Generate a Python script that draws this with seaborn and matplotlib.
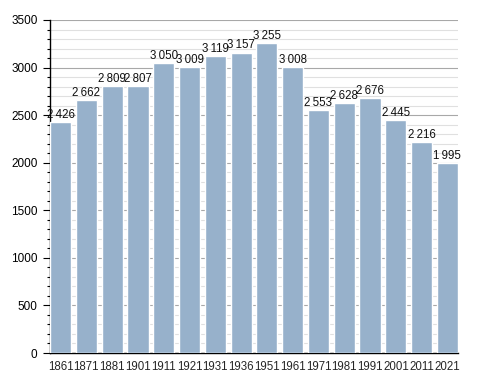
import numpy as np
import pandas as pd
import matplotlib
matplotlib.use("Agg")
import matplotlib.pyplot as plt
import seaborn as sns
from matplotlib.ticker import MultipleLocator

years = ["1861", "1871", "1881", "1901", "1911", "1921", "1931", "1936",
         "1951", "1961", "1971", "1981", "1991", "2001", "2011", "2021"]
population = [2426, 2662, 2809, 2807, 3050, 3009, 3119, 3157,
              3255, 3008, 2553, 2628, 2676, 2445, 2216, 1995]

df = pd.DataFrame({"year": years, "pop": population})

sns.set_style("white")
plt.rcParams["font.family"] = ["Liberation Sans", "DejaVu Sans"]
narrow = ["Liberation Sans Narrow", "Liberation Sans", "DejaVu Sans"]

fig = plt.figure(figsize=(4.88, 3.73), dpi=100)
ax = fig.add_axes([50 / 488, 20 / 373, 408 / 488, 333 / 373])

bar_w = 0.82
sns.barplot(data=df, x="year", y="pop", color="#97b1cb", saturation=1,
            width=bar_w, ax=ax, zorder=3)

for i, v in enumerate(population):
    label = f"{v:,}".replace(",", "\u2009")
    ax.text(i, v + 12, label, ha="center", va="bottom", fontsize=8.3,
            color="#111111", zorder=4, family=narrow)

ax.set_ylim(0, 3500)
ax.set_xlim(-bar_w / 2, len(years) - 1 + bar_w / 2)
ax.yaxis.set_major_locator(MultipleLocator(500))
ax.yaxis.set_minor_locator(MultipleLocator(100))
ax.grid(True, which="major", axis="y", color="#a8a8a8", linewidth=0.8, zorder=0)
ax.grid(True, which="minor", axis="y", color="#e0e0e0", linewidth=0.8, zorder=0)
ax.set_axisbelow(True)

for s in ["top", "right"]:
    ax.spines[s].set_visible(False)
ax.spines["left"].set_color("black")
ax.spines["bottom"].set_color("black")
ax.spines["left"].set_linewidth(1)
ax.spines["bottom"].set_linewidth(1)

ax.tick_params(axis="y", which="major", left=True, length=5, width=0.8,
               labelsize=8.5, pad=4, colors="black")
ax.tick_params(axis="y", which="minor", left=True, length=2.5, width=0.8,
               colors="black")
ax.tick_params(axis="x", bottom=False, labelsize=8.3, pad=2)
for t in ax.get_xticklabels():
    t.set_family(narrow)
ax.set_xlabel("")
ax.set_ylabel("")

fig.savefig("out.png", dpi=100)
